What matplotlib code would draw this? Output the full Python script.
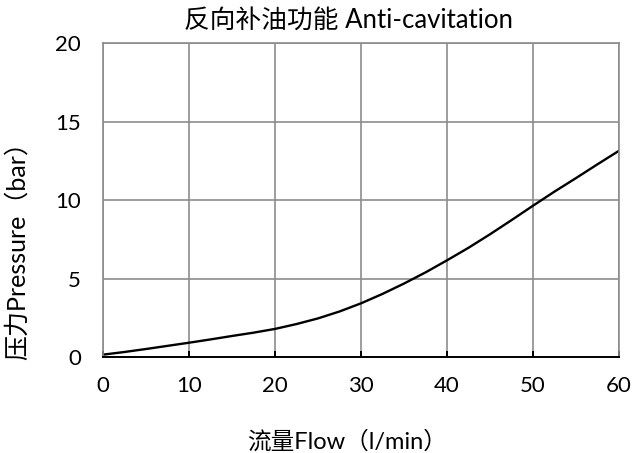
import matplotlib
matplotlib.use("Agg")
import matplotlib.pyplot as plt

flow = [0, 2.5, 5, 7.5, 10, 12.5, 15, 17.5, 20, 22.5, 25, 27.5, 30,
        32.5, 35, 37.5, 40, 42.5, 45, 47.5, 50, 52.5, 55, 57.5, 60]
pressure = [0.15, 0.32, 0.51, 0.71, 0.91, 1.12, 1.34, 1.55, 1.79, 2.1, 2.46, 2.9, 3.42,
            4.02, 4.68, 5.39, 6.16, 6.96, 7.82, 8.72, 9.64, 10.54, 11.4, 12.28, 13.14]
xticks = [0, 10, 20, 30, 40, 50, 60]
yticks = [0, 5, 10, 15, 20]

plt.rcParams['font.family'] = ['Lato', 'Noto Sans CJK SC', 'DejaVu Sans']

fig = plt.figure(figsize=(6.33, 4.53), dpi=100)
ax = fig.add_axes([0.1627, 0.2119, 0.8153, 0.6931])

ax.plot(flow, pressure, color='black', lw=1.7, solid_joinstyle='round')
ax.set_xlim(0, 60)
ax.set_ylim(0, 20)
ax.set_xticks(xticks)
ax.set_yticks(yticks)
ax.grid(True, color='#8c8c8c', lw=1.2)
ax.set_axisbelow(True)
for s in ['top', 'right', 'left']:
    ax.spines[s].set_color('#8c8c8c')
    ax.spines[s].set_linewidth(1.2)
ax.spines['bottom'].set_color('black')
ax.spines['bottom'].set_linewidth(1.4)
ax.tick_params(axis='x', direction='in', length=4, width=1.4, color='black', labelsize=16, pad=14)
ax.tick_params(axis='y', length=0, labelsize=16, pad=16)

ax.text(0.475, 1.073, '反向补油功能 Anti-cavitation', fontsize=18.5,
        ha='center', va='center', transform=ax.transAxes)
ax.set_xlabel('流量Flow（l/min）', fontsize=17, va='center')
ax.xaxis.set_label_coords(0.472, -0.2675)
ax.set_ylabel('压力Pressure（bar）', fontsize=18, va='center')
ax.yaxis.set_label_coords(-0.1667, 0.358)

fig.savefig('out.png', dpi=100)
